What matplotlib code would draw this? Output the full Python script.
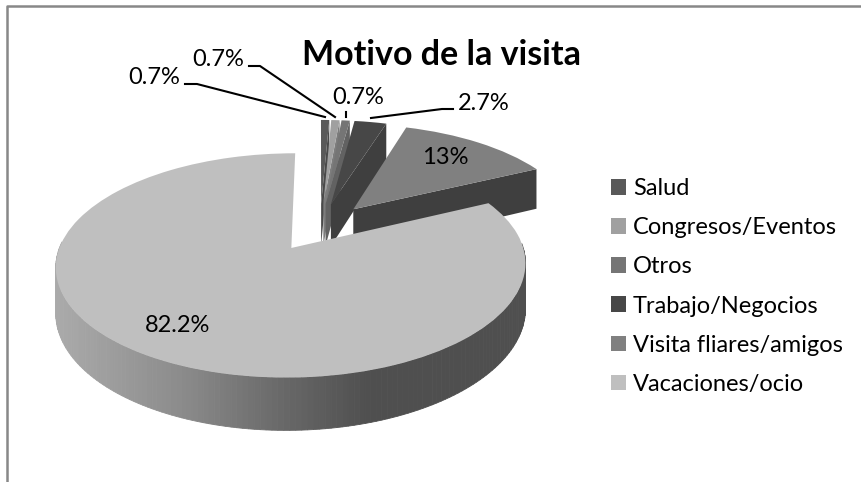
import numpy as np
import matplotlib
matplotlib.use("Agg")
import matplotlib.pyplot as plt
from matplotlib.lines import Line2D
from matplotlib.transforms import Transform

categories = ["Salud", "Congresos/Eventos", "Otros", "Trabajo/Negocios", "Visita fliares/amigos", "Vacaciones/ocio"]
values = [0.7, 0.7, 0.7, 2.7, 13, 82.2]
pct_labels = ["0.7%", "0.7%", "0.7%", "2.7%", "13%", "82.2%"]
colors = ["#595959", "#a0a0a0", "#757575", "#474747", "#808080", "#bfbfbf"]
face_colors = ["#4a4a4a", "#7d7d7d", "#626262", "#3f3f3f", "#3f3f3f", "#8a8a8a"]

W, H = 861, 482
EXPLODE = 0.233
K = 0.151    # perspective strength
DEPTH = 0.42
CX, CY = 320, 227    # pixel position of the pie centre
SX, SY = 225, 103    # pixels per unit


def project(x, y, z=0.0):
    # tilted view of the pie plane, far side gets smaller
    d = 1 + K * y
    return x / d, (y - z) / d


class Persp(Transform):
    input_dims = 2
    output_dims = 2
    is_affine = False
    has_inverse = False

    def transform_non_affine(self, values):
        values = np.asarray(values)
        x, y = project(values[:, 0], values[:, 1])
        return np.column_stack([x, y])


def px(x, y):
    return x / W, 1 - y / H


def rim_color(x_pixel):
    g = np.interp(x_pixel, [55, 180, 290, 370, 530], [171, 140, 102, 79, 79])
    return (g / 255, g / 255, g / 255)


fig = plt.figure(figsize=(W / 100, H / 100), dpi=100)
plt.rcParams["font.family"] = ["Lato", "DejaVu Sans"]
ax = fig.add_axes([0, 0, 1, 1])

wedges, _ = ax.pie(values, colors=colors, explode=[EXPLODE] * len(values), startangle=90,
                   counterclock=False, radius=1, wedgeprops={"linewidth": 0})
ax.set_aspect("auto")
ax.set_xlim(-CX / SX, (W - CX) / SX)
ax.set_ylim(-(H - CY) / SY, CY / SY)
ax.axis("off")

persp = Persp() + ax.transData
for i, w in enumerate(wedges):
    w.set_transform(persp)
    w.set_zorder(2 * i + 2)
    w.set_clip_on(False)
    t1, t2 = np.radians(w.theta1), np.radians(w.theta2)
    cx, cy = w.center
    if i < len(wedges) - 1:
        # cut face on the clockwise end of the slice
        ex, ey = cx + np.cos(t1), cy + np.sin(t1)
        fx, fy = [], []
        for (a, b, z) in [(cx, cy, 0), (ex, ey, 0), (ex, ey, DEPTH), (cx, cy, DEPTH)]:
            p = project(a, b, z)
            fx.append(p[0])
            fy.append(p[1])
        ax.fill(fx, fy, color=face_colors[i], lw=0, zorder=2 * i + 1)
    else:
        # outer rim of the big slice, shaded along x
        angles = np.linspace(t1, t2, 240)
        for a0, a1 in zip(angles[:-1], angles[1:]):
            if np.sin((a0 + a1) / 2) > 0.05:
                continue
            xs = cx + np.cos([a0, a1, a1, a0])
            ys = cy + np.sin([a0, a1, a1, a0])
            qx, qy = project(xs, ys, np.array([0, 0, DEPTH, DEPTH]))
            c = rim_color(CX + SX * qx.mean())
            ax.fill(qx, qy, facecolor=c, edgecolor=c, lw=0.6, zorder=2 * i + 1)

# frame of the chart
fig.add_artist(Line2D([7 / W, 7 / W, 1], [0, 1 - 5.5 / H, 1 - 5.5 / H], color="#888888", lw=1.8))

fig.text(*px(441, 55), "Motivo de la visita", fontsize=24.5, fontweight="bold", ha="center", va="center", color="black")

# data labels with their leader lines
label_pos = [(154, 77), (218, 59), (358, 97), (484, 103), (445, 157), (178, 325)]
for lab, (x, y) in zip(pct_labels, label_pos):
    t = fig.text(*px(x, y), lab, fontsize=17, ha="center", va="center", color="black", zorder=30)

leaders = [
    [(185, 84), (197, 84), (325, 117)],
    [(249, 66), (260, 66), (335, 117)],
    [(346, 112), (346, 117)],
    [(453, 109), (442, 109), (371, 118)],
]
for pts in leaders:
    lx = [p[0] / W for p in pts]
    ly = [1 - p[1] / H for p in pts]
    fig.add_artist(Line2D(lx, ly, color="black", lw=1.5, zorder=30))

ax.legend(wedges, categories, loc="upper left", bbox_to_anchor=(611 / W, 1 - 178 / H), frameon=False,
          fontsize=17, handlelength=0.65, handleheight=0.65, handletextpad=0.28, labelspacing=0.77,
          borderpad=0, borderaxespad=0)

fig.savefig("out.png", dpi=100)
